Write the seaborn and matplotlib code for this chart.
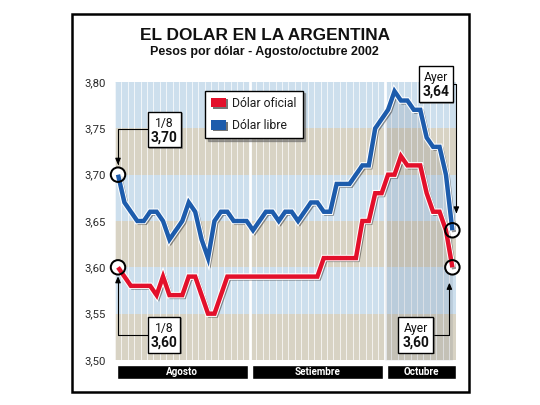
import numpy as np
import pandas as pd
import matplotlib
matplotlib.use("Agg")
import matplotlib.pyplot as plt
import matplotlib.patheffects as pe
from matplotlib.patches import Rectangle, Patch
from matplotlib.transforms import offset_copy
from matplotlib import font_manager as fm
import seaborn as sns

# ---------------- data ----------------
dolar_libre = [3.70, 3.67, 3.66, 3.65, 3.65, 3.66, 3.66, 3.65, 3.63, 3.64,
               3.65, 3.67, 3.66, 3.63, 3.61, 3.65, 3.66, 3.66, 3.65, 3.65,
               3.65, 3.64, 3.65, 3.66, 3.66, 3.65, 3.66, 3.66, 3.65, 3.66,
               3.67, 3.67, 3.66, 3.66, 3.69, 3.69, 3.69, 3.70, 3.71, 3.71,
               3.75, 3.76, 3.77, 3.79, 3.78, 3.78, 3.77, 3.77, 3.74, 3.73,
               3.73, 3.70, 3.64]
dolar_oficial = [3.60, 3.59, 3.58, 3.58, 3.58, 3.58, 3.57, 3.59, 3.57, 3.57,
                 3.57, 3.59, 3.59, 3.57, 3.55, 3.55, 3.57, 3.59, 3.59, 3.59,
                 3.59, 3.59, 3.59, 3.59, 3.59, 3.59, 3.59, 3.59, 3.59, 3.59,
                 3.59, 3.59, 3.61, 3.61, 3.61, 3.61, 3.61, 3.61, 3.65, 3.65,
                 3.68, 3.68, 3.70, 3.70, 3.72, 3.71, 3.71, 3.71, 3.68, 3.66,
                 3.66, 3.64, 3.60]
month_labels = ["Agosto", "Setiembre", "Octubre"]
month_days = [21, 21, 11]
ytick_values = [3.50, 3.55, 3.60, 3.65, 3.70, 3.75, 3.80]
ytick_labels = ["3,50", "3,55", "3,60", "3,65", "3,70", "3,75", "3,80"]
series_names = ["Dólar oficial", "Dólar libre"]
first_label = "1/8"
last_label = "Ayer"
title = "EL DOLAR EN LA ARGENTINA"
subtitle = "Pesos por dólar - Agosto/octubre 2002"

# ---------------- style ----------------
sns.set_style("white")
names = {f.name for f in fm.fontManager.ttflist}
NARROW = "Liberation Sans Narrow" if "Liberation Sans Narrow" in names else "Roboto"
SANS = "Liberation Sans" if "Liberation Sans" in names else "DejaVu Sans"
plt.rcParams["font.family"] = [SANS, "DejaVu Sans"]
narrow_scale = 1.0 if NARROW == "Liberation Sans Narrow" else 0.85

RED = "#e3102b"
BLUE = "#1d5cac"
BLUE_BAND = "#cddfed"
BEIGE_BAND = "#d8d3c4"

W, H, DPI = 540, 405, 100
fig = plt.figure(figsize=(W / DPI, H / DPI), dpi=DPI)
fig.patch.set_facecolor("white")


def fx(px):
    return px / W


def fy(py):
    return 1 - py / H


PL, PR, PT, PB = 114.8, 455.6, 82.0, 360.0
ax = fig.add_axes([fx(PL), fy(PB), (PR - PL) / W, (PB - PT) / H])

n = len(dolar_libre)
x = np.arange(n)
ax.set_xlim(-0.5, n - 0.5)
ax.set_ylim(ytick_values[0], ytick_values[-1])

# background bands
for k in range(len(ytick_values) - 1):
    ax.axhspan(ytick_values[k], ytick_values[k + 1],
               color=BEIGE_BAND if k % 2 == 0 else BLUE_BAND, lw=0, zorder=0)
# day stripes
for s in np.arange(-0.5, n, 1.0):
    ax.axvline(s, color="white", lw=0.75, alpha=0.7, zorder=1)
# month separators
bounds = np.cumsum(month_days)[:-1] - 0.5
for b in bounds:
    ax.axvline(b, color="white", lw=2.0, zorder=1.2)

# shading under blue line in the last month
lib = np.array(dolar_libre)
ofi = np.array(dolar_oficial)
b_last = bounds[-1]
xo = np.r_[b_last, x[x > b_last]]
yo = np.r_[np.interp(b_last, x, lib), lib[x > b_last]]
ax.fill_between(xo, yo, ytick_values[0], color="#24324c", alpha=0.11, lw=0, zorder=1.5)

df = pd.DataFrame({"dia": x, series_names[0]: ofi, series_names[1]: lib})

# end circles (white fill below lines)
ends = pd.DataFrame({"dia": [x[0], x[-1], x[0], x[-1]],
                     "valor": [lib[0], lib[-1], ofi[0], ofi[-1]]})
sns.scatterplot(data=ends, x="dia", y="valor", s=10.4 ** 2, color="white",
                edgecolor="none", ax=ax, zorder=3, clip_on=False, legend=False)

line_fx = [pe.SimpleLineShadow(offset=(1.3, -1.3), shadow_color="#1a1a1a", alpha=0.45),
           pe.Stroke(linewidth=4.7, foreground="white"),
           pe.Normal()]
for name, col in zip(series_names, [RED, BLUE]):
    sns.lineplot(data=df, x="dia", y=name, color=col, lw=3.2, ax=ax, zorder=4)
    ln = ax.lines[-1]
    ln.set_solid_joinstyle("miter")
    ln.set_solid_capstyle("butt")
    ln.set_path_effects(line_fx)

sns.scatterplot(data=ends, x="dia", y="valor", s=10.4 ** 2, facecolor="none",
                edgecolor="black", linewidth=1.45, ax=ax, zorder=5, clip_on=False,
                legend=False)

ax.set_yticks(ytick_values)
ax.set_yticklabels(ytick_labels, family=[NARROW, "DejaVu Sans"],
                   fontsize=9.6 * narrow_scale, color="#2a2a2a")
ax.tick_params(axis="y", length=0, pad=6.5)
ax.set_xticks([])
ax.set_xlabel("")
ax.set_ylabel("")
for sp in ax.spines.values():
    sp.set_visible(False)

# legend
shadow_fx = [pe.withSimplePatchShadow(offset=(1.3, -1.3), shadow_rgbFace="#1a1a1a", alpha=0.6)]
handles = [Patch(facecolor=RED, edgecolor="none", label=series_names[0], path_effects=shadow_fx),
           Patch(facecolor=BLUE, edgecolor="none", label=series_names[1], path_effects=shadow_fx)]
leg = ax.legend(handles=handles, loc="upper left", bbox_to_anchor=(fx(205), fy(90.7)),
                bbox_transform=fig.transFigure, borderaxespad=0, frameon=True,
                fancybox=False, shadow={"color": "#666666", "alpha": 0.55},
                edgecolor="black", framealpha=1, borderpad=0.5,
                handlelength=1.25, handleheight=0.85, handletextpad=0.45,
                labelspacing=0.75,
                prop={"family": [NARROW, "DejaVu Sans"], "size": 10.4 * narrow_scale})
leg.get_frame().set_linewidth(1.0)
leg.set_zorder(8)
for t in leg.get_texts():
    t.set_color("#1e1e1e")

# month bars
axm = fig.add_axes([fx(PL), fy(379), (PR - PL) / W, 14 / H])
axm.set_xlim(-0.5, n - 0.5)
axm.set_ylim(-0.5, 0.5)
starts = np.r_[0, np.cumsum(month_days)[:-1]] - 0.5
stops = np.cumsum(month_days) - 0.5
gap = 0.28
lefts = starts + gap
rights = np.minimum(stops - gap, n - 0.5)
rights[-1] = n - 0.5
axm.barh(y=0, width=rights - lefts, left=lefts, height=1.0, color="black")
for lab, l, r in zip(month_labels, lefts, rights):
    axm.text((l + r) / 2, -0.02, lab, ha="center", va="center", color="white",
             fontweight="bold", family=[NARROW, "DejaVu Sans"], fontsize=8.4 * narrow_scale)
axm.axis("off")

# outer frame
fig.add_artist(Rectangle((fx(71.5), fy(392)), (469 - 71.5) / W, (392 - 13.5) / H,
                         transform=fig.transFigure, fill=False, lw=1.8, ec="black", zorder=20))

# title
fig.text(fx(265), fy(40), title, ha="center", va="baseline", fontsize=12.4,
         fontweight="bold", color="#111111", family=[SANS, "DejaVu Sans"])
fig.text(fx(264), fy(55.5), subtitle, ha="center", va="baseline", fontsize=9.0,
         fontweight="bold", color="#111111", family=[SANS, "DejaVu Sans"])


def fmt(v):
    return f"{v:.2f}".replace(".", ",")


def callout(box, top_text, value, xy, side, shrink, xoff):
    x0, y0, x1, y1 = box
    fig.add_artist(Rectangle((fx(x0), fy(y1)), (x1 - x0) / W, (y1 - y0) / H,
                             transform=fig.transFigure, fc="white", ec="black", lw=1.0,
                             zorder=10,
                             path_effects=[pe.withSimplePatchShadow(offset=(1.2, -1.2),
                                                                    shadow_rgbFace="#555555",
                                                                    alpha=0.5)]))
    cx = (x0 + x1) / 2
    fig.text(fx(cx), fy(y0 + 15.3), top_text, ha="center", va="baseline",
             family=[NARROW, "DejaVu Sans"], fontsize=10.3 * narrow_scale,
             color="#111111", zorder=11)
    fig.text(fx(cx), fy(y0 + 30.3), fmt(value), ha="center", va="baseline",
             family=[NARROW, "DejaVu Sans"], fontweight="bold",
             fontsize=11.6 * narrow_scale, color="#111111", zorder=11)
    sx = x0 if side == "left" else x1
    sy = (y0 + y1) / 2
    tr = offset_copy(ax.transData, fig=fig, x=xoff, y=0, units="dots")
    ax.annotate("", xy=xy, xycoords=tr, xytext=(sx, H - sy), textcoords="figure pixels",
                arrowprops=dict(arrowstyle="-|>,head_length=0.38,head_width=0.16",
                                color="black", lw=0.8, shrinkA=0, shrinkB=shrink,
                                connectionstyle="angle,angleA=0,angleB=90,rad=0"),
                zorder=9, annotation_clip=False)


callout((147.7, 111.7, 181.0, 147.0), first_label, lib[0], (x[0], lib[0]), "left", 7.0, 0)
callout((147.7, 316.7, 180.0, 352.7), first_label, ofi[0], (x[0], ofi[0]), "left", 6.3, 0)
callout((418.7, 65.7, 452.6, 102.3), last_label, lib[-1], (x[-1], lib[-1]), "right", 12.0, 4)
callout((398.3, 316.7, 433.3, 352.7), last_label, ofi[-1], (x[-1], ofi[-1]), "right", 11.0, -3)

fig.savefig("out.png", dpi=DPI, facecolor="white")
